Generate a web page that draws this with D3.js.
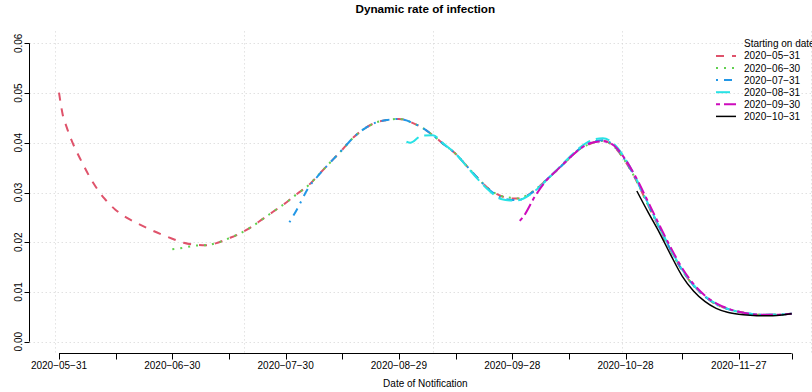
<!DOCTYPE html>
<html>
<head>
<meta charset="utf-8">
<script src="https://cdn.jsdelivr.net/npm/d3@7/dist/d3.min.js"></script>
<style>
body { margin: 0; background: #fff; }
svg text { font-family: "Liberation Sans", Arial, Helvetica, sans-serif; fill: #000; }
</style>
</head>
<body>
<div id="chart"></div>
<script>

var sampleDays = [0,1,2,3,6,9,12,15,18,21,24,27,30,33,36,39,42,45,48,51,54,57,60,61,63,66,69,72,75,78,81,84,87,90,
  92,93,96,99,102,105,108,111,114,117,120,122,123,126,129,132,135,138,141,144,147,150,153,156,159,162,165,168,171,
  174,177,180,183,186,189,192,194];

// each series covers the last values.length entries of sampleDays
var rate0531 = [.0501,.0456,.0432,.0411,.0362,.0320,.0288,.0265,.0249,.0237,.0226,.0216,.0207,.0199,.0195,.0194,
  .0199,.0208,.0218,.0231,.0247,.0263,.0279,.0285,.0297,.0314,.0338,.0362,.0386,.0411,.0429,.0441,.0446,.0448,
  .0445,.0442,.0431,.0415,.0396,.0378,.0353,.0328,.0306,.0293,.0288,.0288,.0290,.0305,.0325,.0346,.0368,.0388,
  .0399,.0404,.0392,.0362,.0322,.0274,.0228,.0183,.0143,.0113,.0091,.0075,.0066,.0060,.0056,.0054,.0054,.0055,.0056];
var rate0630 = [.0186,.0189,.0193,.0194,
  .0199,.0208,.0218,.0231,.0247,.0263,.0279,.0285,.0297,.0314,.0338,.0362,.0386,.0411,.0429,.0441,.0446,.0448,
  .0445,.0442,.0431,.0415,.0396,.0378,.0353,.0328,.0306,.0293,.0289,.0288,.0291,.0305,.0325,.0346,.0368,.0388,
  .0399,.0404,.0392,.0362,.0322,.0274,.0228,.0183,.0143,.0113,.0091,.0075,.0066,.0060,.0056,.0054,.0054,.0055,.0056];
var rate0731 = [.0240,.0266,.0309,.0337,
  .0362,.0386,.0411,.0429,.0441,.0446,.0448,.0445,.0442,.0431,.0415,.0396,.0378,.0353,.0328,.0305,.0290,.0285,
  .0285,.0289,.0304,.0325,.0346,.0368,.0389,.0401,.0405,.0394,.0364,.0323,.0276,.0229,.0184,.0144,.0113,.0091,
  .0075,.0066,.0060,.0056,.0054,.0054,.0055,.0056];
var rate0831 = [.0402,.0400,.0414,.0415,.0397,.0378,.0352,.0326,.0303,.0287,.0284,.0285,.0288,.0303,.0324,.0347,
  .0370,.0391,.0405,.0409,.0397,.0367,.0325,.0277,.0230,.0185,.0145,.0114,.0092,.0076,.0066,.0060,.0056,.0054,
  .0054,.0055,.0056];
var rate0930 = [.0243,.0252,.0292,.0324,.0346,.0368,.0388,.0400,.0403,.0394,.0366,.0327,.0281,.0234,.0189,.0148,
  .0116,.0093,.0077,.0067,.0060,.0056,.0054,.0054,.0055,.0056];
var rate1031 = [.0303,.0260,.0219,.0174,.0132,.0102,.0081,.0067,.0059,.0055,.0053,.0052,.0052,.0054,.0056];

var seriesNames = ["2020-05-31","2020-06-30","2020-07-31","2020-08-31","2020-09-30","2020-10-31"];
var seriesValues = [rate0531, rate0630, rate0731, rate0831, rate0930, rate1031];
var seriesColors = ["#DF536B","#61D04F","#2297E6","#28E2E5","#CD0BBC","#000000"];
var seriesDash = ["8,8","2,6","2,6,8,6","14,6","4,4,12,4",null];
var seriesWidth = [2, 2, 2, 2, 2, 1.5];

var yTicks = [0, 0.01, 0.02, 0.03, 0.04, 0.05, 0.06];
var xTickDays = [0,15,30,45,60,75,90,105,120,135,150,165,180,194];
var xTickLabels = ["2020-05-31","2020-06-30","2020-07-30","2020-08-29","2020-09-28","2020-10-28","2020-11-27"];

var W = 812, H = 392;
var plotL = 29.7, plotR = 821, plotT = 31.4, plotB = 353.6;

var parse = d3.utcParse("%Y-%m-%d");
var day0 = parse("2020-05-31");
var lastDay = d3.max(sampleDays);
var pad = lastDay * 0.04;
var dayToDate = function(d) { return new Date(day0.getTime() + d * 864e5); };

var x = d3.scaleUtc()
  .domain([dayToDate(-pad), dayToDate(lastDay + pad)])
  .range([plotL, plotR]);
var y = d3.scaleLinear().domain([-0.0024, 0.0624]).range([plotB, plotT]);

var svg = d3.select("#chart").append("svg")
  .attr("width", W).attr("height", H);

var minus = function(s) { return s.replace(/-/g, "\u2212"); };
var fmtY = d3.format(".2f");

// grid like R's grid(): x positions from the index (day 0 = index 1)
var gridIdx = d3.ticks(1 - pad, lastDay + 1 + pad, 5);
var grid = svg.append("g")
  .attr("stroke", "#D3D3D3").attr("stroke-width", 1).attr("stroke-dasharray", "1,3");
grid.selectAll("line.gx").data(gridIdx).enter().append("line")
  .attr("x1", function(i) { return Math.round(x(dayToDate(i - 1))) + 0.5; })
  .attr("x2", function(i) { return Math.round(x(dayToDate(i - 1))) + 0.5; })
  .attr("y1", plotT).attr("y2", plotB);
grid.selectAll("line.gy").data(yTicks).enter().append("line")
  .attr("x1", plotL).attr("x2", plotR)
  .attr("y1", function(v) { return Math.round(y(v)) + 0.5; })
  .attr("y2", function(v) { return Math.round(y(v)) + 0.5; });

// curves
var line = d3.line()
  .x(function(p) { return x(dayToDate(p[0])); })
  .y(function(p) { return y(p[1]); })
  .curve(d3.curveMonotoneX);

seriesValues.forEach(function(vals, k) {
  var days = sampleDays.slice(sampleDays.length - vals.length);
  var pts = days.map(function(d, i) { return [d, vals[i]]; });
  svg.append("path")
    .attr("d", line(pts))
    .attr("fill", "none")
    .attr("stroke", seriesColors[k])
    .attr("stroke-width", seriesWidth[k])
    .attr("stroke-dasharray", seriesDash[k]);
});

// y axis
var axX = Math.round(plotL) - 0.5;
var yAxis = svg.append("g");
yAxis.append("line").attr("x1", axX).attr("x2", axX)
  .attr("y1", y(0.06)).attr("y2", y(0)).attr("stroke", "#000");
yAxis.selectAll("line.t").data(yTicks).enter().append("line")
  .attr("x1", axX - 5).attr("x2", axX)
  .attr("y1", function(v) { return Math.round(y(v)) + 0.5; })
  .attr("y2", function(v) { return Math.round(y(v)) + 0.5; })
  .attr("stroke", "#000");
yAxis.selectAll("text").data(yTicks).enter().append("text")
  .attr("transform", function(v) { return "translate(21.5," + y(v) + ") rotate(-90)"; })
  .attr("text-anchor", "middle")
  .attr("font-size", "10px")
  .text(function(v) { return fmtY(v); });

// x axis
var xAxisY = Math.round(plotB) - 0.5;
var xa = svg.append("g");
xa.append("line")
  .attr("x1", x(dayToDate(0))).attr("x2", x(dayToDate(lastDay)))
  .attr("y1", xAxisY).attr("y2", xAxisY).attr("stroke", "#000");
xa.selectAll("line.t").data(xTickDays).enter().append("line")
  .attr("x1", function(d) { return Math.round(x(dayToDate(d))) + 0.5; })
  .attr("x2", function(d) { return Math.round(x(dayToDate(d))) + 0.5; })
  .attr("y1", xAxisY).attr("y2", xAxisY + 6)
  .attr("stroke", "#000");
xa.selectAll("text").data(xTickLabels).enter().append("text")
  .attr("x", function(s) { return x(parse(s)); })
  .attr("y", 369)
  .attr("text-anchor", "middle")
  .attr("font-size", "10px")
  .text(function(s) { return minus(s); });

svg.append("text")
  .attr("x", (plotL + plotR) / 2).attr("y", 387)
  .attr("text-anchor", "middle").attr("font-size", "10px")
  .text("Date of Notification");

svg.append("text")
  .attr("x", (plotL + plotR) / 2).attr("y", 13)
  .attr("text-anchor", "middle").attr("font-size", "11.7px").attr("font-weight", "bold")
  .text("Dynamic rate of infection");

// legend, no box (its title runs off the right edge, as in the original)
var lg = svg.append("g");
lg.append("text").attr("x", 744).attr("y", 47.3).attr("font-size", "10px").text("Starting on date");
seriesNames.forEach(function(name, k) {
  var by = 47.3 + 12.1 * (k + 1);
  lg.append("line")
    .attr("x1", 716).attr("x2", 736)
    .attr("y1", by - 3.5).attr("y2", by - 3.5)
    .attr("stroke", seriesColors[k]).attr("stroke-width", seriesWidth[k])
    .attr("stroke-dasharray", seriesDash[k]);
  lg.append("text").attr("x", 744).attr("y", by).attr("font-size", "10px").text(minus(name));
});

</script>
</body>
</html>
